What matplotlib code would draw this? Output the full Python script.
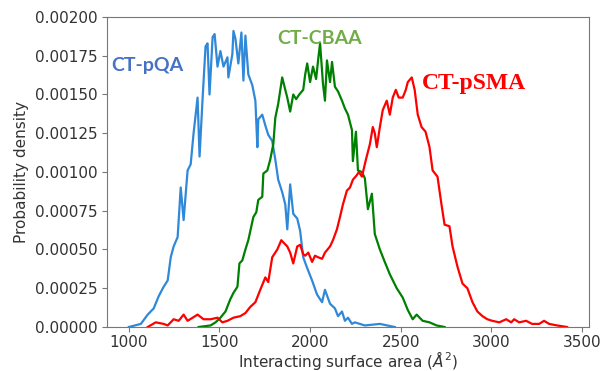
import numpy as np
import matplotlib
matplotlib.use('Agg')
import matplotlib.pyplot as plt

# CT-pQA curve (surface area, density)
pqa_x = [1000, 1066, 1104, 1137, 1165, 1192, 1214, 1231, 1247, 1269, 1286, 1302,
         1324, 1341, 1357, 1379, 1390, 1407, 1423, 1434, 1445, 1462, 1473, 1489,
         1505, 1522, 1544, 1549, 1571, 1577, 1588, 1604, 1621, 1632, 1643, 1659,
         1681, 1698, 1709, 1714, 1736, 1753, 1769, 1791, 1808, 1824, 1846, 1863,
         1874, 1890, 1907, 1929, 1945, 1962, 1984, 2011, 2038, 2066, 2082, 2110,
         2137, 2154, 2176, 2192, 2209, 2231, 2247, 2302, 2385, 2467]
pqa_y = [0.0, 0.00002, 0.00008, 0.00012, 0.0002, 0.00026, 0.0003, 0.00045, 0.00052,
         0.00058, 0.0009, 0.00069, 0.00101, 0.00105, 0.00125, 0.00148, 0.0011, 0.00148,
         0.00181, 0.00183, 0.0015, 0.00187, 0.00189, 0.00168, 0.00178, 0.00168, 0.00174,
         0.00161, 0.00176, 0.00191, 0.00186, 0.0017, 0.0019, 0.00159, 0.00188, 0.00163,
         0.00156, 0.00146, 0.00116, 0.00134, 0.00137, 0.0013, 0.00124, 0.0012, 0.00108,
         0.00095, 0.00087, 0.00079, 0.00063, 0.00092, 0.00073, 0.0007, 0.00062, 0.00045,
         0.00038, 0.0003, 0.00021, 0.00016, 0.00024, 0.00015, 0.00012, 0.00007, 0.0001,
         0.00004, 0.00006, 0.00002, 0.00003, 0.00001, 0.00002, 0.0]

# CT-CBAA curve
cbaa_x = [1385, 1451, 1478, 1505, 1533, 1560, 1577, 1599, 1610, 1626, 1643, 1659,
          1687, 1703, 1714, 1736, 1742, 1764, 1780, 1797, 1808, 1824, 1846, 1863,
          1874, 1890, 1907, 1923, 1940, 1962, 1973, 1984, 2000, 2016, 2033, 2044,
          2055, 2071, 2082, 2093, 2110, 2121, 2137, 2154, 2176, 2192, 2209, 2231,
          2236, 2253, 2264, 2286, 2302, 2319, 2341, 2357, 2385, 2412, 2440, 2478,
          2511, 2539, 2566, 2588, 2621, 2659, 2698, 2742]
cbaa_y = [0.0, 0.00001, 0.00003, 0.00006, 0.0001, 0.00018, 0.00022, 0.00026, 0.00041,
          0.00043, 0.0005, 0.00056, 0.00071, 0.00074, 0.00082, 0.00084, 0.00099, 0.00101,
          0.00108, 0.00118, 0.00135, 0.00144, 0.00161, 0.00153, 0.00148, 0.00139, 0.0015,
          0.00147, 0.0015, 0.00153, 0.00163, 0.0017, 0.00158, 0.00168, 0.0016, 0.00172,
          0.00183, 0.00157, 0.00146, 0.00172, 0.00158, 0.00171, 0.00155, 0.00152, 0.00146,
          0.00141, 0.00137, 0.00127, 0.00107, 0.00126, 0.00101, 0.001, 0.00096, 0.00076,
          0.00086, 0.0006, 0.0005, 0.00042, 0.00034, 0.00025, 0.00019, 0.00011, 0.00005,
          0.00008, 0.00004, 0.00003, 0.00001, 0.0]

# CT-pSMA curve
psma_x = [1104, 1148, 1192, 1214, 1247, 1275, 1302, 1324, 1352, 1379, 1412, 1451,
          1489, 1516, 1544, 1577, 1615, 1643, 1670, 1698, 1725, 1753, 1769, 1791,
          1819, 1841, 1857, 1874, 1890, 1907, 1929, 1945, 1962, 1973, 1990, 2011,
          2027, 2044, 2066, 2082, 2110, 2126, 2148, 2165, 2181, 2203, 2220, 2236,
          2258, 2269, 2286, 2308, 2330, 2346, 2357, 2368, 2385, 2401, 2423, 2440,
          2456, 2473, 2489, 2511, 2528, 2539, 2561, 2577, 2594, 2615, 2637, 2659,
          2676, 2703, 2725, 2742, 2769, 2786, 2813, 2841, 2868, 2896, 2923, 2951,
          2978, 3005, 3044, 3082, 3110, 3126, 3154, 3192, 3225, 3264, 3291, 3319,
          3363, 3418]
psma_y = [0.0, 0.00003, 0.00002, 0.00001, 0.00005, 0.00004, 0.00008, 0.00004, 0.00006,
          0.00008, 0.00005, 0.00005, 0.00006, 0.00003, 0.00004, 0.00006, 0.00007, 0.00009,
          0.00013, 0.00016, 0.00024, 0.00032, 0.00029, 0.00045, 0.0005, 0.00056, 0.00054,
          0.00052, 0.00048, 0.00041, 0.00052, 0.00053, 0.00047, 0.00046, 0.00048, 0.00042,
          0.00046, 0.00045, 0.00044, 0.00048, 0.00052, 0.00056, 0.00063, 0.00071, 0.00079,
          0.00088, 0.0009, 0.00095, 0.00098, 0.001, 0.00097, 0.00108, 0.00118, 0.00129,
          0.00125, 0.00116, 0.00129, 0.0014, 0.00146, 0.00137, 0.00148, 0.00153, 0.00148,
          0.00148, 0.00153, 0.00158, 0.00161, 0.00153, 0.00137, 0.00129, 0.00126, 0.00116,
          0.00101, 0.00097, 0.00079, 0.00066, 0.00065, 0.00052, 0.00039, 0.00028, 0.00025,
          0.00016, 0.0001, 0.00007, 0.00005, 0.00004, 0.00003, 0.00005, 0.00003, 0.00005,
          0.00003, 0.00004, 0.00002, 0.00002, 0.00004, 0.00002, 0.00001, 0.0]

labels = ['CT-pQA', 'CT-CBAA', 'CT-pSMA']
line_colors = ['#2f88d8', 'green', 'red']
label_colors = ['#4472c4', '#70ad47', 'red']

fig = plt.figure(figsize=(6.01, 3.71), dpi=100)
ax = fig.add_axes([0.178, 0.1186, 0.802, 0.8356])

ax.plot(pqa_x, pqa_y, color=line_colors[0], lw=1.6)
ax.plot(cbaa_x, cbaa_y, color=line_colors[1], lw=1.6)
ax.plot(psma_x, psma_y, color=line_colors[2], lw=1.6)

ax.set_ylim(0, 0.002)
ax.set_xticks([1000, 1500, 2000, 2500, 3000, 3500])
ax.set_yticks(np.arange(0, 0.00201, 0.00025))
ax.yaxis.set_major_formatter(matplotlib.ticker.FormatStrFormatter('%.5f'))

for s in ax.spines.values():
    s.set_color('#777777')
ax.tick_params(colors='#777777', labelcolor='#333333', labelsize=11)
ax.tick_params(axis='x', pad=2.5)

ax.set_xlabel('Interacting surface area ($\\mathit{Å}^2$)', fontsize=11, color='#333333',
              labelpad=-1)
ax.set_ylabel('Probability density', fontsize=11, color='#333333')

# curve labels
ax.text(0.008, 0.845, labels[0], transform=ax.transAxes, color=label_colors[0],
        fontsize=14, fontweight='bold', family='Lato', va='center')
ax.text(0.353, 0.932, labels[1], transform=ax.transAxes, color=label_colors[1],
        fontsize=14, fontweight='bold', family='Lato', va='center')
ax.text(0.654, 0.787, labels[2], transform=ax.transAxes, color=label_colors[2],
        fontsize=17, fontweight='bold', family='Liberation Serif', va='center')

fig.savefig('out.png', dpi=100)
